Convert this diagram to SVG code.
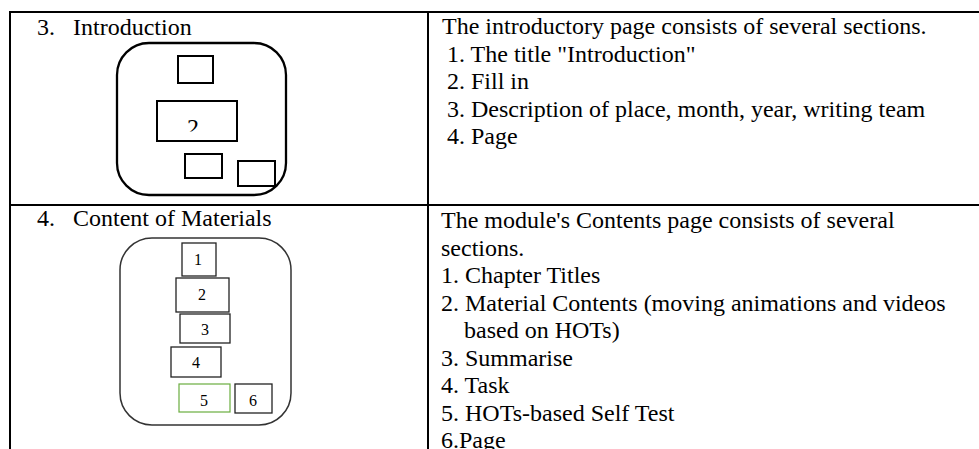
<svg xmlns="http://www.w3.org/2000/svg" width="979" height="449" viewBox="0 0 979 449">
<style>
  .t { font-family: "Liberation Serif", "Times New Roman", serif; font-size: 24px; fill: #000; }
  .d { font-family: "Liberation Serif", "Times New Roman", serif; font-size: 16px; fill: #000; text-anchor: middle; }
  .grid { stroke: #000; stroke-width: 2; fill: none; }
  .box { fill: #fff; stroke: #000; stroke-width: 2; }
  .sbox { fill: #fff; stroke: #222; stroke-width: 1.3; }
</style>
<defs>
  <clipPath id="clip2"><rect x="150" y="100" width="100" height="31.5"/></clipPath>
</defs>
<rect width="979" height="449" fill="#fff"/>
<g id="table">
  <line class="grid" x1="9" y1="12" x2="979" y2="12"/>
  <line class="grid" x1="10" y1="11" x2="10" y2="449"/>
  <line class="grid" x1="428" y1="11" x2="428" y2="449"/>
  <line class="grid" x1="9" y1="205" x2="979" y2="205"/>
</g>
<g id="row3-label">
  <text class="t" x="37" y="35">3.</text>
  <text class="t" x="73" y="35">Introduction</text>
</g>
<g id="intro-frame">
  <rect x="117" y="43" width="169" height="152" rx="32" ry="32" fill="#fff" stroke="#000" stroke-width="2.3"/>
</g>
<g id="intro-box1"><rect class="box" x="178" y="56" width="35" height="27"/></g>
<g id="intro-box2">
  <rect class="box" x="157" y="101" width="80" height="40"/>
  <text class="t" x="193" y="135" text-anchor="middle" clip-path="url(#clip2)">2</text>
</g>
<g id="intro-box3"><rect class="box" x="185" y="154" width="37" height="24"/></g>
<g id="intro-box4"><rect class="box" x="238" y="161" width="37" height="25"/></g>
<g id="row3-desc">
  <text class="t" x="442" y="34">The introductory page consists of several sections.</text>
  <text class="t" x="447" y="61.5">1. The title "Introduction"</text>
  <text class="t" x="447" y="89">2. Fill in</text>
  <text class="t" x="447" y="116.5">3. Description of place, month, year, writing team</text>
  <text class="t" x="447" y="144">4. Page</text>
</g>
<g id="row4-label">
  <text class="t" x="37" y="226">4.</text>
  <text class="t" x="73" y="226">Content of Materials</text>
</g>
<g id="content-frame">
  <rect x="120" y="238" width="171" height="187" rx="32" ry="32" fill="#fff" stroke="#333" stroke-width="1.5"/>
</g>
<g id="content-box1"><rect class="sbox" x="182" y="243" width="34" height="33"/><text class="d" x="198" y="265">1</text></g>
<g id="content-box2"><rect class="sbox" x="176" y="278" width="53" height="34"/><text class="d" x="202" y="300">2</text></g>
<g id="content-box3"><rect class="sbox" x="180" y="314" width="50" height="29"/><text class="d" x="205" y="335">3</text></g>
<g id="content-box4"><rect class="sbox" x="171" y="347" width="50" height="30"/><text class="d" x="196" y="368">4</text></g>
<g id="content-box5"><rect x="179" y="384" width="51" height="28" fill="#fff" stroke="#6aad3f" stroke-width="1.2"/><text class="d" x="204" y="406">5</text></g>
<g id="content-box6"><rect class="sbox" x="235" y="384" width="37" height="29"/><text class="d" x="253" y="406">6</text></g>
<g id="row4-desc">
  <text class="t" x="441" y="228">The module's Contents page consists of several</text>
  <text class="t" x="441" y="255.5">sections.</text>
  <text class="t" x="441" y="283">1. Chapter Titles</text>
  <text class="t" x="441" y="310.5">2. Material Contents (moving animations and videos</text>
  <text class="t" x="464" y="338">based on HOTs)</text>
  <text class="t" x="441" y="365.5">3. Summarise</text>
  <text class="t" x="441" y="393">4. Task</text>
  <text class="t" x="441" y="420.5">5. HOTs-based Self Test</text>
  <text class="t" x="441" y="448">6.Page</text>
</g>
<g id="connectors"></g>
</svg>
